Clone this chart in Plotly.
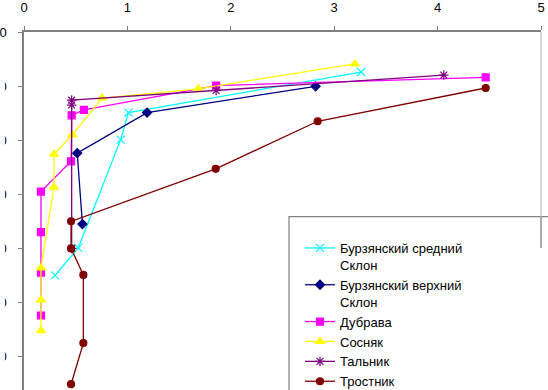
import plotly.graph_objects as go

# ---- data (x value, depth) ----
names = [
    "Бурзянский средний<br>Склон",
    "Бурзянский верхний<br>Склон",
    "Дубрава",
    "Сосняк",
    "Тальник",
    "Тростник",
]
cyan_x = [3.26, 1.01, 0.935, 0.525, 0.30]
cyan_y = [7.4, 14.9, 19.9, 39.9, 45.0]

navy_x = [2.82, 1.19, 0.515, 0.565]
navy_y = [10.05, 14.9, 22.4, 35.5]

magenta_x = [4.465, 1.858, 0.579, 0.461, 0.455, 0.164, 0.164, 0.164, 0.164]
magenta_y = [8.4, 9.9, 14.4, 15.4, 23.9, 29.5, 37.0, 44.5, 52.4]

yellow_x = [3.20, 1.686, 0.755, 0.467, 0.29, 0.29, 0.164, 0.164, 0.164]
yellow_y = [5.9, 10.5, 12.2, 19.0, 22.6, 28.7, 43.6, 49.5, 55.2]

purple_x = [4.06, 1.858, 0.461, 0.461, 0.461]
purple_y = [7.96, 10.8, 12.6, 13.5, 40.0]

brown_x = [4.465, 2.84, 1.854, 0.455, 0.455, 0.574, 0.574, 0.455]
brown_y = [10.35, 16.5, 25.3, 35.0, 40.0, 44.9, 57.5, 65.1]

x_ticks = [0, 1, 2, 3, 4, 5]
y_ticks = [0, 10, 20, 30, 40, 50, 60]

series = [
    (cyan_x, cyan_y, "#00FFFF", "x-thin-open", 8),
    (navy_x, navy_y, "#000080", "diamond", 7),
    (magenta_x, magenta_y, "#FF00FF", "square", 7),
    (yellow_x, yellow_y, "#FFFF00", "triangle-up", 8),
    (purple_x, purple_y, "#800080", "asterisk-open", 8),
    (brown_x, brown_y, "#800000", "circle", 7),
]

# figure is slightly taller than the 390px window: the chart is cut off at
# the bottom, as in the reference
W, H = 548, 397
L, R, T, B = 24, 7, 32, 0
pw = W - L - R
ph = H - T - B
px_per_unit = 5.41
y_max = ph / px_per_unit

def px_x(p):
    return (p - L) / pw

def px_y(p):
    return 1 - (p - T) / ph

fig = go.Figure()
for (xs, ys, col, sym, sz), nm in zip(series, names):
    fig.add_trace(go.Scatter(
        x=xs, y=ys, mode="lines+markers", name=nm,
        line=dict(color=col, width=1.3),
        marker=dict(symbol=sym, size=sz, color=col,
                    line=dict(color=col, width=1.2)),
    ))

font_family = "Arial, Liberation Sans, sans-serif"

shapes = [
    # legend box
    dict(type="rect", xref="paper", yref="paper",
         x0=px_x(289), x1=px_x(570), y0=px_y(H + 10), y1=px_y(216.7),
         line=dict(color="#808080", width=1.2), fillcolor="white", layer="above"),
    # right border of plot area
    dict(type="line", xref="paper", yref="paper",
         x0=1, x1=1, y0=px_y(216.7), y1=1,
         line=dict(color="#c8c8c8", width=1.5), layer="above"),
    dict(type="line", xref="paper", yref="paper",
         x0=1, x1=1, y0=px_y(248), y1=px_y(216.7),
         line=dict(color="#909090", width=1.5), layer="above"),
    # mask hiding the left part of clipped y tick labels
    dict(type="rect", xref="paper", yref="paper",
         x0=px_x(-5), x1=px_x(4.8), y0=px_y(H + 10), y1=px_y(60),
         line=dict(width=0), fillcolor="white", layer="above"),
]

fig.update_layout(
    width=W, height=H,
    margin=dict(l=L, r=R, t=T, b=B, pad=0),
    paper_bgcolor="white", plot_bgcolor="white",
    font=dict(family=font_family, size=13, color="black"),
    showlegend=True,
    legend=dict(
        x=px_x(300), y=0, xanchor="left", yanchor="bottom",
        bgcolor="rgba(0,0,0,0)", borderwidth=0,
        font=dict(family=font_family, size=13, color="black"),
        valign="top", tracegroupgap=0,
    ),
    xaxis=dict(
        side="top", range=[0, 5], tickvals=x_ticks,
        ticktext=[str(v) for v in x_ticks],
        showgrid=False, zeroline=False, showline=True,
        linecolor="#808080", linewidth=1.5,
        ticks="outside", ticklen=4, tickcolor="#808080", tickwidth=1.2,
        ticklabelstandoff=9, automargin=False,
    ),
    yaxis=dict(
        range=[y_max, 0], tickvals=y_ticks,
        ticktext=[str(v) for v in y_ticks],
        showgrid=False, zeroline=False, showline=True,
        linecolor="#808080", linewidth=1.5,
        ticks="outside", ticklen=4, tickcolor="#808080", tickwidth=1.2,
        ticklabelstandoff=9, automargin=False,
    ),
    shapes=shapes,
)

fig.write_html("out.html", config={"displayModeBar": False})

# remove the default page margin so the figure sits at the window's corner
with open("out.html", "r", encoding="utf-8") as f:
    html = f.read()
html = html.replace("<body>", '<body style="margin:0;padding:0;overflow:hidden">', 1)
with open("out.html", "w", encoding="utf-8") as f:
    f.write(html)
